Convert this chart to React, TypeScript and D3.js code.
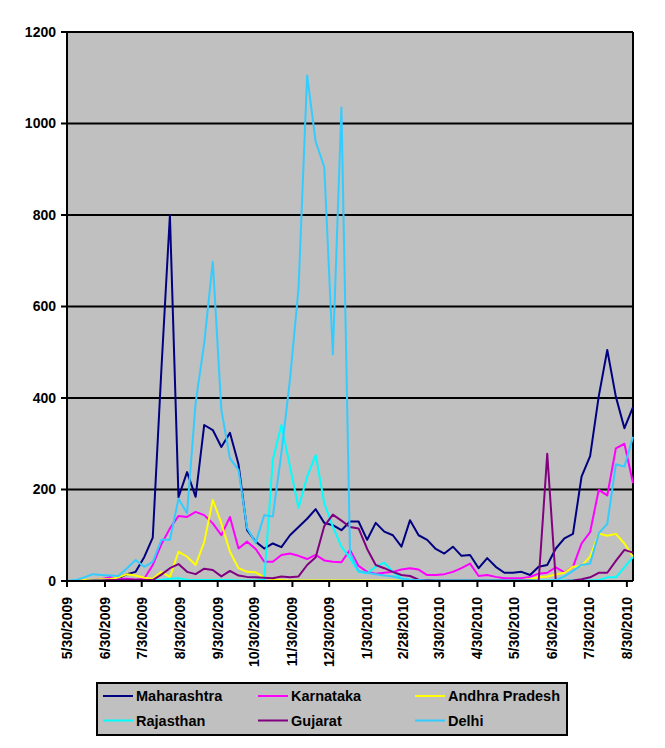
import { useEffect, useRef } from 'react'
import * as d3 from 'd3'

// weekly reports, first week ending 5/30/2009
const START_DATE = '5/30/2009'
const TICK_LABELS = [
  '5/30/2009', '6/30/2009', '7/30/2009', '8/30/2009', '9/30/2009', '10/30/2009',
  '11/30/2009', '12/30/2009', '1/30/2010', '2/28/2010', '3/30/2010', '4/30/2010',
  '5/30/2010', '6/30/2010', '7/30/2010', '8/30/2010',
]
const Y_TICKS = [0, 200, 400, 600, 800, 1000, 1200]

const MAHARASHTRA = [0, 0, 1, 2, 3, 3, 6, 15, 20, 52, 95, 460, 800, 183, 238, 184, 341, 330, 293, 324, 255, 111, 86, 71, 82, 74, 100, 118, 136, 157, 127, 122, 111, 130, 130, 90, 127, 108, 100, 75, 133, 100, 90, 70, 60, 75, 55, 57, 28, 50, 31, 18, 18, 20, 13, 31, 35, 71, 93, 103, 228, 273, 403, 505, 403, 334, 380]
const KARNATAKA = [0, 0, 1, 2, 4, 8, 4, 5, 3, 5, 35, 80, 115, 142, 140, 151, 144, 126, 100, 140, 71, 86, 70, 42, 42, 57, 60, 55, 48, 57, 45, 42, 41, 68, 33, 20, 16, 18, 20, 25, 28, 25, 13, 13, 15, 20, 28, 38, 11, 13, 9, 6, 6, 6, 9, 16, 18, 30, 19, 31, 82, 107, 199, 187, 290, 300, 214]
const ANDHRA_PRADESH = [0, 0, 2, 3, 4, 4, 8, 15, 12, 7, 5, 20, 9, 64, 53, 35, 85, 177, 126, 64, 28, 20, 19, 8, 4, 2, 1, 1, 1, 1, 1, 1, 1, 1, 1, 1, 1, 1, 1, 1, 1, 1, 1, 1, 1, 1, 1, 1, 1, 1, 1, 1, 1, 2, 4, 8, 10, 14, 18, 31, 33, 53, 104, 99, 103, 82, 53]
const RAJASTHAN = [0, 0, 0, 1, 1, 1, 1, 1, 1, 2, 2, 2, 5, 6, 3, 2, 2, 2, 2, 2, 1, 1, 1, 3, 265, 341, 250, 160, 228, 275, 170, 119, 75, 50, 20, 17, 31, 40, 20, 6, 2, 1, 1, 1, 1, 1, 1, 1, 1, 1, 1, 1, 1, 1, 1, 1, 1, 1, 1, 1, 1, 1, 2, 8, 8, 30, 52]
const GUJARAT = [0, 0, 0, 1, 1, 2, 2, 3, 3, 2, 2, 14, 28, 37, 20, 15, 27, 24, 10, 22, 12, 9, 8, 7, 6, 10, 8, 10, 35, 52, 120, 145, 132, 118, 115, 70, 35, 28, 20, 13, 11, 3, 2, 1, 1, 1, 1, 1, 1, 1, 1, 1, 1, 1, 1, 0, 278, 0, 0, 1, 4, 8, 18, 18, 44, 68, 62]
const DELHI = [0, 2, 8, 15, 13, 12, 11, 28, 46, 31, 42, 90, 90, 180, 148, 390, 520, 698, 374, 268, 243, 116, 83, 144, 141, 280, 440, 640, 1105, 960, 905, 495, 1035, 62, 22, 18, 15, 12, 10, 5, 3, 2, 1, 1, 1, 1, 1, 1, 1, 1, 1, 1, 1, 1, 1, 0, 0, 2, 10, 22, 35, 38, 104, 125, 255, 250, 315]

const SERIES = [
  { name: 'Maharashtra', color: '#000080', values: MAHARASHTRA },
  { name: 'Karnataka', color: '#FF00FF', values: KARNATAKA },
  { name: 'Andhra Pradesh', color: '#FFFF00', values: ANDHRA_PRADESH },
  { name: 'Rajasthan', color: '#00FFFF', values: RAJASTHAN },
  { name: 'Gujarat', color: '#800080', values: GUJARAT },
  { name: 'Delhi', color: '#33CCFF', values: DELHI },
]

const FONT = '"Liberation Sans", Arial, sans-serif'

export default function App() {
  const svgRef = useRef<SVGSVGElement>(null)

  useEffect(() => {
    if (!svgRef.current) return
    const W = 665, H = 748
    const m = { left: 67, right: 633, top: 32, bottom: 581 }
    const svg = d3.select(svgRef.current)
    svg.selectAll('*').remove()

    const parse = d3.timeParse('%m/%d/%Y')
    const start = parse(START_DATE)!
    const nWeeks = SERIES[0].values.length
    const dates = d3.range(nWeeks).map(i => d3.timeDay.offset(start, i * 7))

    const x = d3.scaleTime().domain([dates[0], dates[nWeeks - 1]]).range([m.left, m.right])
    const y = d3.scaleLinear().domain([0, 1200]).range([m.bottom, m.top])

    svg.append('rect').attr('width', W).attr('height', H).attr('fill', '#fff')

    // plot area
    svg.append('rect')
      .attr('x', m.left).attr('y', m.top)
      .attr('width', m.right - m.left).attr('height', m.bottom - m.top)
      .attr('fill', '#C0C0C0')

    // gridlines
    svg.append('g').selectAll('line').data(Y_TICKS.filter(t => t > 0)).join('line')
      .attr('x1', m.left).attr('x2', m.right)
      .attr('y1', d => y(d)).attr('y2', d => y(d))
      .attr('stroke', '#000').attr('stroke-width', 2)

    // right border
    svg.append('line').attr('x1', m.right).attr('x2', m.right).attr('y1', m.top).attr('y2', m.bottom)
      .attr('stroke', '#000').attr('stroke-width', 2)

    // series
    const line = d3.line<number>()
      .x((_, i) => x(dates[i]))
      .y(d => y(d))
    SERIES.forEach(s => {
      svg.append('path')
        .attr('d', line(s.values) ?? '')
        .attr('fill', 'none')
        .attr('stroke', s.color)
        .attr('stroke-width', 2)
        .attr('stroke-linejoin', 'round')
    })

    // y axis
    const yAxis = svg.append('g')
    yAxis.append('line').attr('x1', m.left).attr('x2', m.left).attr('y1', m.top).attr('y2', m.bottom)
      .attr('stroke', '#000').attr('stroke-width', 2)
    Y_TICKS.forEach(t => {
      yAxis.append('line').attr('x1', m.left - 6).attr('x2', m.left).attr('y1', y(t)).attr('y2', y(t))
        .attr('stroke', '#000').attr('stroke-width', 2)
      yAxis.append('text').attr('x', 56).attr('y', y(t)).attr('dy', '0.35em')
        .attr('text-anchor', 'end').attr('font-family', FONT).attr('font-weight', 700).attr('font-size', 14)
        .text(t)
    })

    // x axis
    const xAxis = svg.append('g')
    xAxis.append('line').attr('x1', m.left).attr('x2', m.right).attr('y1', m.bottom).attr('y2', m.bottom)
      .attr('stroke', '#000').attr('stroke-width', 2)
    TICK_LABELS.forEach(lbl => {
      const tx = x(parse(lbl)!)
      xAxis.append('line').attr('x1', tx).attr('x2', tx).attr('y1', m.bottom).attr('y2', m.bottom + 6)
        .attr('stroke', '#000').attr('stroke-width', 2)
      xAxis.append('text')
        .attr('transform', `translate(${tx},597) rotate(-90)`)
        .attr('dy', '0.35em')
        .attr('text-anchor', 'end').attr('font-family', FONT).attr('font-weight', 700).attr('font-size', 14)
        .text(lbl)
    })

    // legend
    const lg = svg.append('g')
    lg.append('rect').attr('x', 97).attr('y', 683).attr('width', 470).attr('height', 52)
      .attr('fill', '#C0C0C0').attr('stroke', '#000').attr('stroke-width', 2)
    const colX = [103, 258, 415]
    const rowY = [696, 720.5]
    SERIES.forEach((s, i) => {
      const cx = colX[i % 3], cy = rowY[Math.floor(i / 3)]
      lg.append('line').attr('x1', cx).attr('x2', cx + 30).attr('y1', cy).attr('y2', cy)
        .attr('stroke', s.color).attr('stroke-width', 2)
      lg.append('text').attr('x', cx + 33).attr('y', cy).attr('dy', '0.35em')
        .attr('font-family', FONT).attr('font-weight', 700).attr('font-size', 14.5)
        .text(s.name)
    })
  }, [])

  return (
    <svg ref={svgRef} width={665} height={748}
      style={{ position: 'absolute', left: 0, top: 0, display: 'block' }} />
  )
}
